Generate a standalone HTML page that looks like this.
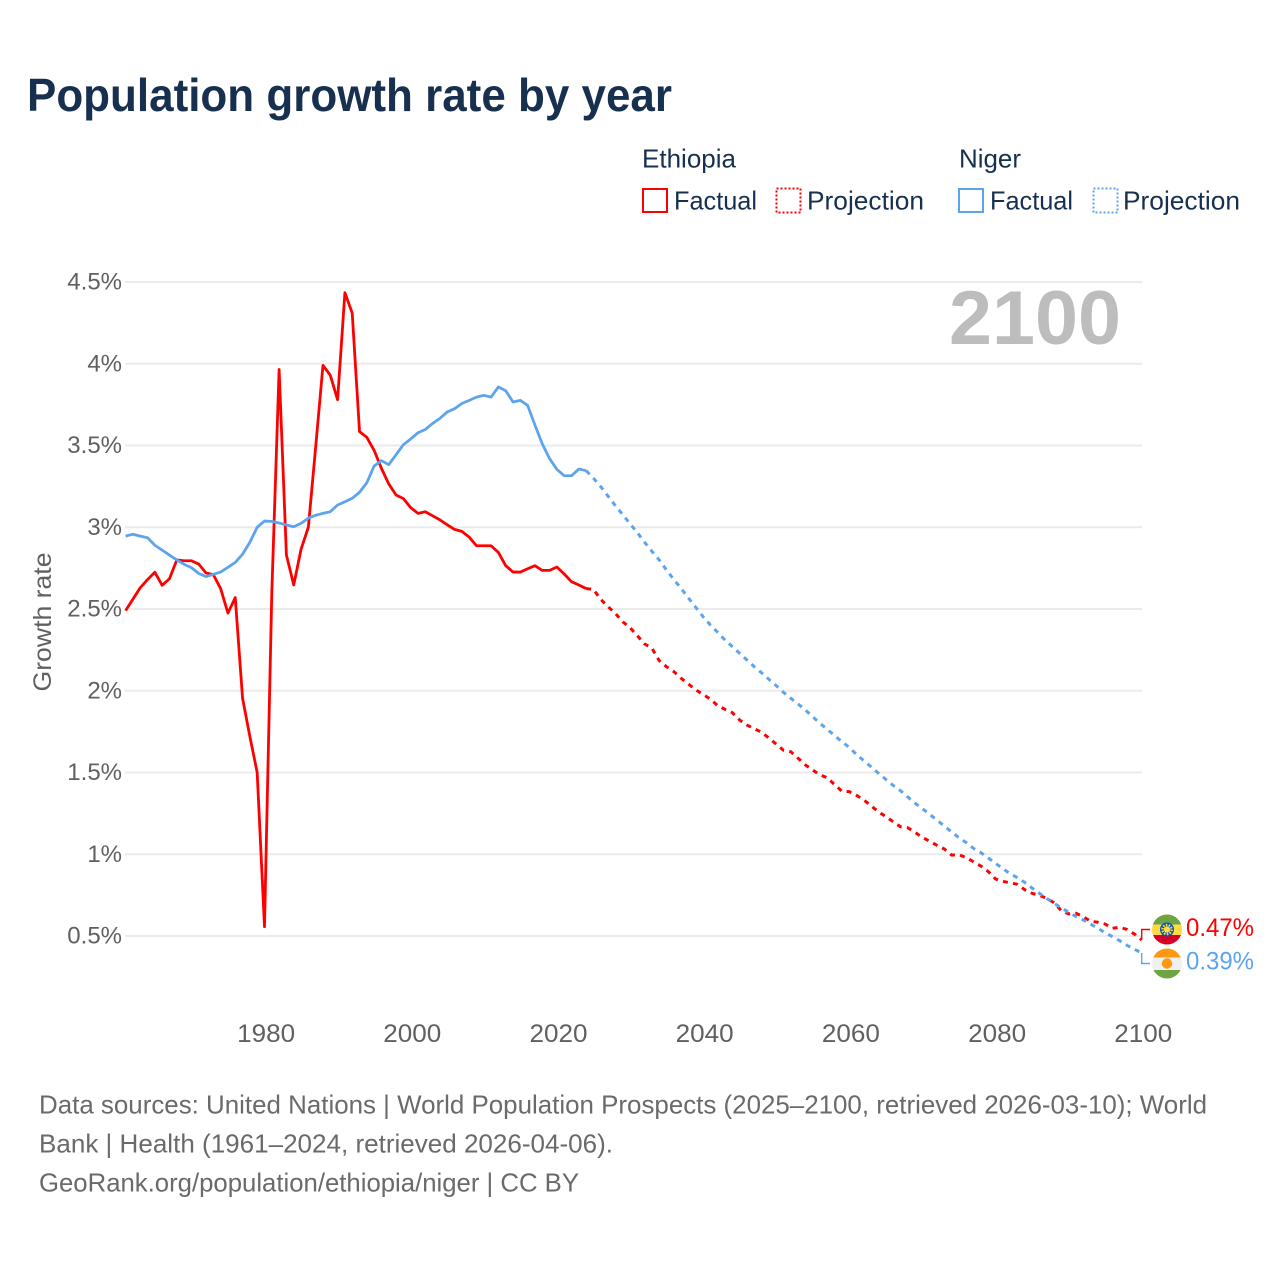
<!DOCTYPE html>
<html lang="en">
<head>
<meta charset="utf-8">
<title>Population growth rate by year</title>
<style>
html,body{margin:0;padding:0;background:#fff}
svg{display:block;font-family:"Liberation Sans",sans-serif}
</style>
</head>
<body>
<svg id="chart" xmlns="http://www.w3.org/2000/svg" width="1280" height="1280" viewBox="0 0 1280 1280">
  <defs>
    <clipPath id="flag-clip-et"><circle cx="1167" cy="929.5" r="15"/></clipPath>
    <clipPath id="flag-clip-ne"><circle cx="1167" cy="963.5" r="15"/></clipPath>
  </defs>
  <rect x="0" y="0" width="1280" height="1280" fill="#fff"/>
  <text x="27" y="111" font-size="46" font-weight="700" fill="#17304f" textLength="645" lengthAdjust="spacingAndGlyphs">Population growth rate by year</text>

  <g font-size="26" fill="#17304f">
    <text x="642" y="167.5" textLength="94" lengthAdjust="spacingAndGlyphs">Ethiopia</text>
    <rect x="643" y="189" width="24" height="23" fill="none" stroke="#ff0000" stroke-width="2"/>
    <text x="674" y="209.5" textLength="83" lengthAdjust="spacingAndGlyphs">Factual</text>
    <rect x="776.5" y="188.5" width="24" height="24" fill="none" stroke="#ff0000" stroke-width="2" stroke-dasharray="2 2"/>
    <text x="807" y="209.5" textLength="117" lengthAdjust="spacingAndGlyphs">Projection</text>
    <text x="959" y="167.5" textLength="62" lengthAdjust="spacingAndGlyphs">Niger</text>
    <rect x="959" y="189" width="24" height="23" fill="none" stroke="#5ca5ee" stroke-width="2"/>
    <text x="990" y="209.5" textLength="83" lengthAdjust="spacingAndGlyphs">Factual</text>
    <rect x="1093.5" y="188.5" width="24" height="24" fill="none" stroke="#5ca5ee" stroke-width="2" stroke-dasharray="2 2"/>
    <text x="1123" y="209.5" textLength="117" lengthAdjust="spacingAndGlyphs">Projection</text>
  </g>

  <g id="grid"></g>
  <g id="y-ticks" font-size="24" fill="#606060" text-anchor="end"></g>
  <g id="x-ticks" font-size="25" fill="#606060" text-anchor="middle"></g>
  <text transform="translate(51,622) rotate(-90)" font-size="25" fill="#606060" text-anchor="middle" textLength="139" lengthAdjust="spacingAndGlyphs">Growth rate</text>

  <text x="1121" y="344" font-size="76" font-weight="700" fill="#bdbdbd" text-anchor="end" textLength="172" lengthAdjust="spacingAndGlyphs">2100</text>

  <g id="series"></g>
  <g id="end-markers"></g>

  <g clip-path="url(#flag-clip-et)">
    <rect x="1152" y="914" width="30" height="31" fill="#ffda44"/>
    <rect x="1152" y="914" width="30" height="10.5" fill="#6da544"/>
    <rect x="1152" y="935" width="30" height="10" fill="#d80027"/>
    <circle cx="1167" cy="929.5" r="7" fill="#0052b4"/>
    <circle cx="1167" cy="929.5" r="4.6" fill="none" stroke="#ffda44" stroke-width="2.4" stroke-dasharray="1.6 1.3"/>
    <circle cx="1167" cy="929.5" r="3.2" fill="#ffda44"/>
  </g>
  <g clip-path="url(#flag-clip-ne)">
    <rect x="1152" y="948" width="30" height="31" fill="#f0f0f0"/>
    <rect x="1152" y="948" width="30" height="9.5" fill="#ff9811"/>
    <rect x="1152" y="970" width="30" height="9.5" fill="#6da544"/>
    <circle cx="1167" cy="963.5" r="5.2" fill="#ff9811"/>
  </g>
  <text x="1186" y="936" font-size="25" fill="#ff0000" textLength="68" lengthAdjust="spacingAndGlyphs">0.47%</text>
  <text x="1186" y="969.5" font-size="25" fill="#5ca5ee" textLength="68" lengthAdjust="spacingAndGlyphs">0.39%</text>

  <g font-size="26" fill="#6a6a6a">
    <text x="39" y="1113.5" textLength="1168" lengthAdjust="spacingAndGlyphs">Data sources: United Nations | World Population Prospects (2025–2100, retrieved 2026-03-10); World</text>
    <text x="39" y="1152.5" textLength="574" lengthAdjust="spacingAndGlyphs">Bank | Health (1961–2024, retrieved 2026-04-06).</text>
    <text x="39" y="1191.5" textLength="540" lengthAdjust="spacingAndGlyphs">GeoRank.org/population/ethiopia/niger | CC BY</text>
  </g>
</svg>
<script>
const factualStartYear = 1961;
const projectionStartYear = 2024;
const yTickValues = [0.5, 1, 1.5, 2, 2.5, 3, 3.5, 4, 4.5];
const yTickLabels = ["0.5%", "1%", "1.5%", "2%", "2.5%", "3%", "3.5%", "4%", "4.5%"];
const xTickYears = [1980, 2000, 2020, 2040, 2060, 2080, 2100];
const ethiopiaFactual = [
  2.49, 2.56, 2.63, 2.68, 2.725, 2.645, 2.685, 2.80, 2.795, 2.795,
  2.775, 2.72, 2.71, 2.625, 2.475, 2.57, 1.954, 1.72, 1.50, 0.557,
  2.60, 3.965, 2.83, 2.647, 2.865, 3.00, 3.49, 3.99, 3.93, 3.78,
  4.435, 4.31, 3.585, 3.55, 3.47, 3.36, 3.265, 3.197, 3.175, 3.12,
  3.085, 3.095, 3.07, 3.045, 3.015, 2.987, 2.975, 2.94, 2.887, 2.887,
  2.887, 2.846, 2.765, 2.726, 2.726, 2.746, 2.765, 2.736, 2.736, 2.757,
  2.714, 2.667, 2.647, 2.625
];
const nigerFactual = [
  2.946, 2.957, 2.946, 2.936, 2.89, 2.86, 2.83, 2.80, 2.773, 2.753,
  2.718, 2.698, 2.712, 2.726, 2.755, 2.785, 2.835, 2.908, 3.00, 3.038,
  3.036, 3.026, 3.014, 3.003, 3.024, 3.056, 3.073, 3.085, 3.095, 3.136,
  3.156, 3.177, 3.214, 3.272, 3.375, 3.407, 3.383, 3.444, 3.505, 3.54,
  3.578, 3.598, 3.635, 3.666, 3.705, 3.725, 3.757, 3.776, 3.796, 3.807,
  3.796, 3.858, 3.835, 3.766, 3.776, 3.745, 3.625, 3.51, 3.42, 3.354,
  3.315, 3.315, 3.356, 3.346
];
const ethiopiaProjection = [
  2.625, 2.62, 2.559, 2.514, 2.473, 2.422, 2.386, 2.337, 2.286, 2.26,
  2.184, 2.147, 2.117, 2.076, 2.041, 2.005, 1.978, 1.948, 1.909, 1.886,
  1.866, 1.821, 1.79, 1.768, 1.746, 1.711, 1.674, 1.636, 1.627, 1.587,
  1.546, 1.515, 1.485, 1.468, 1.425, 1.385, 1.383, 1.36, 1.332, 1.295,
  1.26, 1.23, 1.199, 1.168, 1.162, 1.134, 1.103, 1.079, 1.055, 1.032,
  0.995, 0.997, 0.979, 0.954, 0.928, 0.895, 0.849, 0.834, 0.826, 0.816,
  0.783, 0.761, 0.749, 0.73, 0.704, 0.655, 0.635, 0.639, 0.618, 0.59,
  0.584, 0.573, 0.547, 0.553, 0.54, 0.512, 0.476
];
const nigerProjection = [
  3.346, 3.30, 3.248, 3.19, 3.132, 3.077, 3.022, 2.967, 2.908, 2.853,
  2.80, 2.738, 2.68, 2.626, 2.567, 2.51, 2.453, 2.402, 2.357, 2.31,
  2.27, 2.229, 2.188, 2.147, 2.11, 2.07, 2.031, 1.99, 1.954, 1.919,
  1.882, 1.841, 1.80, 1.764, 1.725, 1.688, 1.654, 1.609, 1.572, 1.534,
  1.495, 1.458, 1.421, 1.389, 1.35, 1.312, 1.279, 1.244, 1.208, 1.173,
  1.136, 1.101, 1.071, 1.036, 1.01, 0.977, 0.945, 0.912, 0.881, 0.857,
  0.828, 0.794, 0.761, 0.73, 0.70, 0.673, 0.645, 0.62, 0.598, 0.573,
  0.547, 0.52, 0.496, 0.471, 0.443, 0.419, 0.396
];

const NS = "http://www.w3.org/2000/svg";
function xScale(year) { return 125.6 + (year - 1961) * 7.31; }
function yScale(value) { return 936 - (value - 0.5) * 163.5; }
function pathFrom(values, startYear) {
  return values.map(function (v, i) {
    return (i ? "L" : "M") + xScale(startYear + i).toFixed(2) + " " + yScale(v).toFixed(2);
  }).join(" ");
}

const gridGroup = document.getElementById("grid");
const yTickGroup = document.getElementById("y-ticks");
yTickValues.forEach(function (v, i) {
  const line = document.createElementNS(NS, "line");
  line.setAttribute("x1", 125);
  line.setAttribute("x2", 1142);
  line.setAttribute("y1", yScale(v));
  line.setAttribute("y2", yScale(v));
  line.setAttribute("stroke", "#ebebeb");
  line.setAttribute("stroke-width", "2");
  
  
  gridGroup.appendChild(line);
  const label = document.createElementNS(NS, "text");
  label.setAttribute("x", 122);
  label.setAttribute("y", yScale(v) + 7.5);
  label.textContent = yTickLabels[i];
  
  
  yTickGroup.appendChild(label);
});

const xTickGroup = document.getElementById("x-ticks");
xTickYears.forEach(function (year) {
  const label = document.createElementNS(NS, "text");
  label.setAttribute("x", xScale(year) + 1.6);
  label.setAttribute("y", 1042);
  label.setAttribute("textLength", "58");
  label.setAttribute("lengthAdjust", "spacingAndGlyphs");
  label.textContent = String(year);
  
  
  xTickGroup.appendChild(label);
});

const seriesGroup = document.getElementById("series");
function addLine(values, startYear, color, dashed, name) {
  const p = document.createElementNS(NS, "path");
  p.setAttribute("d", pathFrom(values, startYear));
  p.setAttribute("fill", "none");
  p.setAttribute("stroke", color);
  p.setAttribute("stroke-width", dashed ? "3" : "2.8");
  p.setAttribute("stroke-linejoin", "round");
  if (dashed) { p.setAttribute("stroke-dasharray", "5 5.2"); }
  
  
  seriesGroup.appendChild(p);
}
addLine(ethiopiaFactual, factualStartYear, "#ff0000", false, "line-ethiopia-factual");
addLine(ethiopiaProjection, projectionStartYear, "#ff0000", true, "line-ethiopia-projection");
addLine(nigerFactual, factualStartYear, "#5ca5ee", false, "line-niger-factual");
addLine(nigerProjection, projectionStartYear, "#5ca5ee", true, "line-niger-projection");

const markerGroup = document.getElementById("end-markers");
function addConnector(lastValue, flagY, color, name) {
  const x = xScale(2100);
  const c = document.createElementNS(NS, "path");
  c.setAttribute("d", "M" + x + " " + yScale(lastValue) + " L" + x + " " + flagY + " L1150 " + flagY);
  c.setAttribute("fill", "none");
  c.setAttribute("stroke", color);
  c.setAttribute("stroke-width", "1.4");
  
  
  markerGroup.appendChild(c);
}
addConnector(ethiopiaProjection[ethiopiaProjection.length - 1], 929.5, "#ff0000", "connector-ethiopia");
addConnector(nigerProjection[nigerProjection.length - 1], 963.5, "#5ca5ee", "connector-niger");
</script>
</body>
</html>
